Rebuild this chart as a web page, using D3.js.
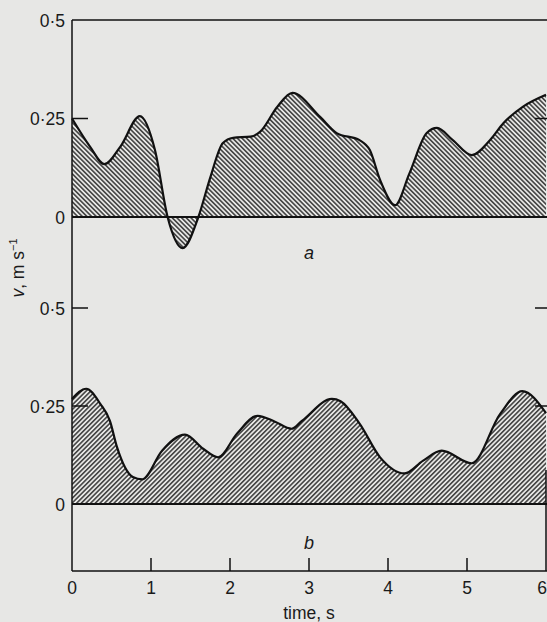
<!DOCTYPE html>
<html><head><meta charset="utf-8">
<script src="https://cdn.jsdelivr.net/npm/d3@7"></script>
<style>
html,body{margin:0;padding:0;background:#e7e7e5;}
svg{display:block;font-family:"Liberation Sans",Arial,sans-serif;}
</style></head>
<body>
<svg id="c" width="547" height="622"></svg>
<script>
// ---- data ----
const timeA = [0, 0.23, 0.41, 0.61, 0.86, 1.05, 1.21, 1.40, 1.60, 1.75, 1.91, 2.04, 2.26, 2.38, 2.60, 2.79, 3.14, 3.35, 3.64, 3.77, 3.90, 4.09, 4.27, 4.49, 4.62, 4.82, 5.06, 5.29, 5.46, 5.71, 6.0];
const velA  = [0.25, 0.178, 0.134, 0.178, 0.256, 0.17, 0, -0.079, 0, 0.10, 0.188, 0.201, 0.204, 0.216, 0.28, 0.315, 0.254, 0.213, 0.195, 0.17, 0.094, 0.03, 0.11, 0.213, 0.226, 0.195, 0.157, 0.195, 0.238, 0.28, 0.31];
const timeB = [0, 0.18, 0.36, 0.48, 0.57, 0.77, 0.89, 1.14, 1.43, 1.66, 1.85, 2.09, 2.35, 2.57, 2.78, 2.91, 3.29, 3.40, 3.64, 3.90, 4.21, 4.44, 4.68, 5.06, 5.42, 5.70, 6.0];
const velB  = [0.268, 0.294, 0.255, 0.212, 0.145, 0.069, 0.063, 0.136, 0.177, 0.141, 0.119, 0.18, 0.225, 0.21, 0.192, 0.212, 0.268, 0.262, 0.205, 0.119, 0.078, 0.11, 0.136, 0.104, 0.23, 0.288, 0.232];
const yTickValues = [0.5, 0.25, 0];
const yTickLabels = ["0·5", "0·25", "0"];
const xTickValues = [0, 1, 2, 3, 4, 5, 6];
const panelLabels = ["a", "b"];

// ---- layout ----
const svg = d3.select("#c");
const x = d3.scaleLinear().domain([0, 6]).range([72, 546]);
const yA = d3.scaleLinear().domain([0, 0.5]).range([217, 20]);
const yB = d3.scaleLinear().domain([0, 0.5]).range([504, 308]);
const axisY = 571, left = 72, rightEdge = 547;
const FS = 17.5;

const defs = svg.append("defs");
function hatch(id, angle) {
  const p = defs.append("pattern").attr("id", id).attr("patternUnits", "userSpaceOnUse")
    .attr("width", 3.3).attr("height", 3.3).attr("patternTransform", `rotate(${angle})`);
  p.append("line").attr("x1", 0.8).attr("x2", 0.8).attr("y1", -1).attr("y2", 5)
    .attr("stroke", "#1e1e1e").attr("stroke-width", 1.3);
}
hatch("hA", -45);
hatch("hB", 45);

function panel(times, vals, y, pat) {
  const data = times.map((t, i) => ({t, v: vals[i]}));
  const area = d3.area().x(d => x(d.t)).y0(y(0)).y1(d => y(d.v)).curve(d3.curveMonotoneX);
  const line = d3.line().x(d => x(d.t)).y(d => y(d.v)).curve(d3.curveMonotoneX);
  svg.append("path").datum(data).attr("d", area).attr("fill", `url(#${pat})`);
  svg.append("line").attr("x1", left).attr("x2", rightEdge).attr("y1", y(0)).attr("y2", y(0))
    .attr("stroke", "#111").attr("stroke-width", 2.2);
  svg.append("path").datum(data).attr("d", line).attr("fill", "none")
    .attr("stroke", "#111").attr("stroke-width", 2.2);
}
panel(timeA, velA, yA, "hA");
panel(timeB, velB, yB, "hB");

// frame
const fr = svg.append("g").attr("stroke", "#111").attr("stroke-width", 1.5);
fr.append("line").attr("x1", left).attr("x2", left).attr("y1", yA(0.5)).attr("y2", axisY);
fr.append("line").attr("x1", left).attr("x2", rightEdge).attr("y1", yA(0.5)).attr("y2", yA(0.5));
fr.append("line").attr("x1", left).attr("x2", rightEdge).attr("y1", axisY).attr("y2", axisY);
fr.append("line").attr("x1", x(6)).attr("x2", x(6)).attr("y1", 470).attr("y2", axisY);

// y ticks and labels
function yTicks(y, vals, labels, inner) {
  vals.forEach((v, i) => {
    if (inner.includes(v)) {
      fr.append("line").attr("x1", left).attr("x2", left + 16).attr("y1", y(v)).attr("y2", y(v));
      fr.append("line").attr("x1", rightEdge - 12).attr("x2", rightEdge).attr("y1", y(v)).attr("y2", y(v));
    }
    svg.append("text").attr("x", 65).attr("y", y(v) + 6.5).attr("text-anchor", "end")
      .attr("font-size", FS).attr("fill", "#1a1a1a").text(labels[i]);
  });
}
yTicks(yA, yTickValues, yTickLabels, [0.25]);
yTicks(yB, yTickValues, yTickLabels, [0.5, 0.25]);

// x ticks
xTickValues.forEach(t => {
  if (t > 0 && t < 6) fr.append("line").attr("x1", x(t)).attr("x2", x(t)).attr("y1", axisY).attr("y2", axisY - 13);
  svg.append("text").attr("x", t === 6 ? 547 : x(t)).attr("y", 594)
    .attr("text-anchor", t === 6 ? "end" : "middle")
    .attr("font-size", FS).attr("fill", "#1a1a1a").text(t);
});
svg.append("text").attr("x", x(3)).attr("y", 619).attr("text-anchor", "middle")
  .attr("font-size", FS).attr("fill", "#1a1a1a").text("time, s");

// panel labels
svg.append("text").attr("x", x(3)).attr("y", 259).attr("text-anchor", "middle")
  .attr("font-size", 18).attr("font-style", "italic").attr("fill", "#1a1a1a").text(panelLabels[0]);
svg.append("text").attr("x", x(3)).attr("y", 549).attr("text-anchor", "middle")
  .attr("font-size", 18).attr("font-style", "italic").attr("fill", "#1a1a1a").text(panelLabels[1]);

// y-axis title
const yt = svg.append("text").attr("transform", "translate(24,268) rotate(-90)")
  .attr("text-anchor", "middle").attr("font-size", FS).attr("fill", "#1a1a1a");
yt.append("tspan").attr("font-style", "italic").text("v");
yt.append("tspan").text(", m s");
yt.append("tspan").attr("font-size", 11).attr("dy", -7).text("−1");
</script>
</body></html>
